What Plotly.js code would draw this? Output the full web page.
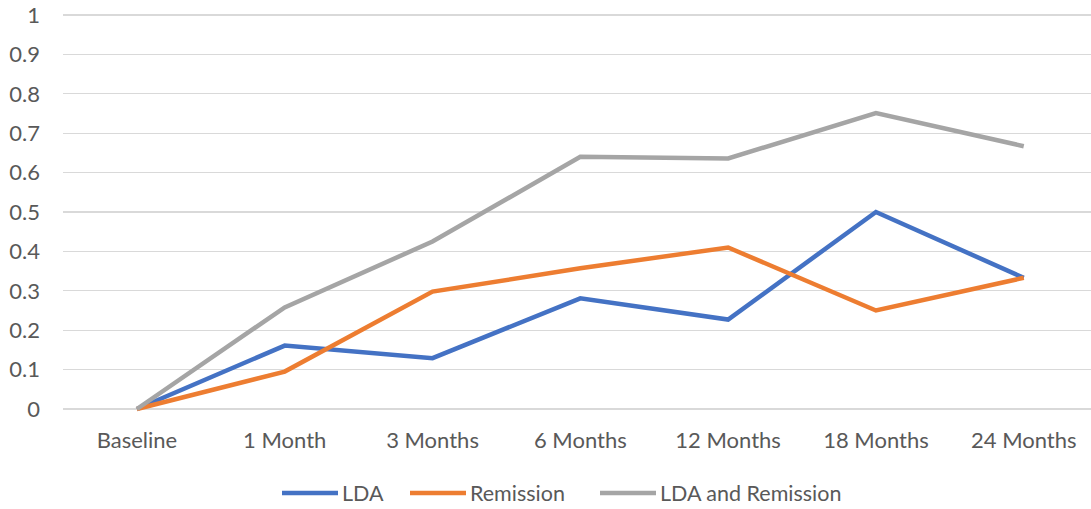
<!DOCTYPE html>
<html><head><meta charset="utf-8">
<script src="https://cdn.plot.ly/plotly-3.0.1.min.js"></script>
<style>html,body{margin:0;padding:0;background:#fff}#chart{width:1091px;height:509px}</style>
</head><body><div id="chart"></div>
<script>
const categories = ["Baseline","1 Month","3 Months","6 Months","12 Months","18 Months","24 Months"];
const lda = [0, 0.161, 0.129, 0.281, 0.227, 0.5, 0.333];
const remission = [0, 0.095, 0.298, 0.357, 0.41, 0.25, 0.333];
const ldaAndRemission = [0, 0.258, 0.425, 0.64, 0.636, 0.751, 0.667];
const yTicks = [0,0.1,0.2,0.3,0.4,0.5,0.6,0.7,0.8,0.9,1];
const yTickText = ["0","0.1","0.2","0.3","0.4","0.5","0.6","0.7","0.8","0.9","1"];
const seriesNames = ["LDA","Remission","LDA and Remission"];
const seriesColors = ["#4472C4","#ED7D31","#A5A5A5"];

const idx = categories.map((c,i)=>i);
const seriesValues = [lda, remission, ldaAndRemission];
const data = seriesValues.map((y,i)=>({type:'scatter', mode:'lines', name:seriesNames[i], x:idx, y:y,
    line:{color:seriesColors[i], width:4.5, shape:'linear'}, hoverinfo:'skip', showlegend:false}));

const axisFont = {family:'Lato, "Open Sans", sans-serif', size:22, color:'#595959'};
const legendFont = {family:'Lato, "Open Sans", sans-serif', size:21.5, color:'#595959'};

// custom legend (pixel positions converted to paper coordinates)
const W = 1091, H = 509, mL = 63, mR = 0, mT = 13, mB = 94;
const pw = W - mL - mR, ph = H - mT - mB;
const px = v => (v - mL) / pw;
const py = v => (H - mB - v) / ph;
const legendY = 493;
const legendStarts = [282, 410, 600];
const shapes = [], annotations = [];
seriesNames.forEach((n,i)=>{
  const x0 = legendStarts[i];
  shapes.push({type:'line', xref:'paper', yref:'paper', x0:px(x0), x1:px(x0+56), y0:py(legendY), y1:py(legendY),
    line:{color:seriesColors[i], width:4.5}});
  annotations.push({xref:'paper', yref:'paper', x:px(x0+58), y:py(legendY), xanchor:'left', yanchor:'middle',
    text:n, showarrow:false, font:legendFont});
});

const layout = {
  width:W, height:H,
  margin:{l:mL, r:mR, t:mT, b:mB, pad:0},
  paper_bgcolor:'#fff', plot_bgcolor:'#fff',
  font: axisFont,
  showlegend:false,
  xaxis:{range:[-0.5, 6.455], tickmode:'array', tickvals:idx, ticktext:categories,
    showgrid:false, zeroline:false, showline:false, ticks:'', ticklabelstandoff:10,
    tickfont:axisFont, fixedrange:true},
  yaxis:{range:[-0.01523, 1.00508], tickmode:'array', tickvals:yTicks, ticktext:yTickText,
    showgrid:true, gridcolor:'#D9D9D9', gridwidth:1.3, zeroline:true, zerolinecolor:'#D9D9D9', zerolinewidth:1.3,
    showline:false, ticks:'', ticklabelstandoff:22, tickfont:axisFont, fixedrange:true},
  shapes: shapes,
  annotations: annotations
};
Plotly.newPlot('chart', data, layout, {staticPlot:true, displayModeBar:false});
</script></body></html>
